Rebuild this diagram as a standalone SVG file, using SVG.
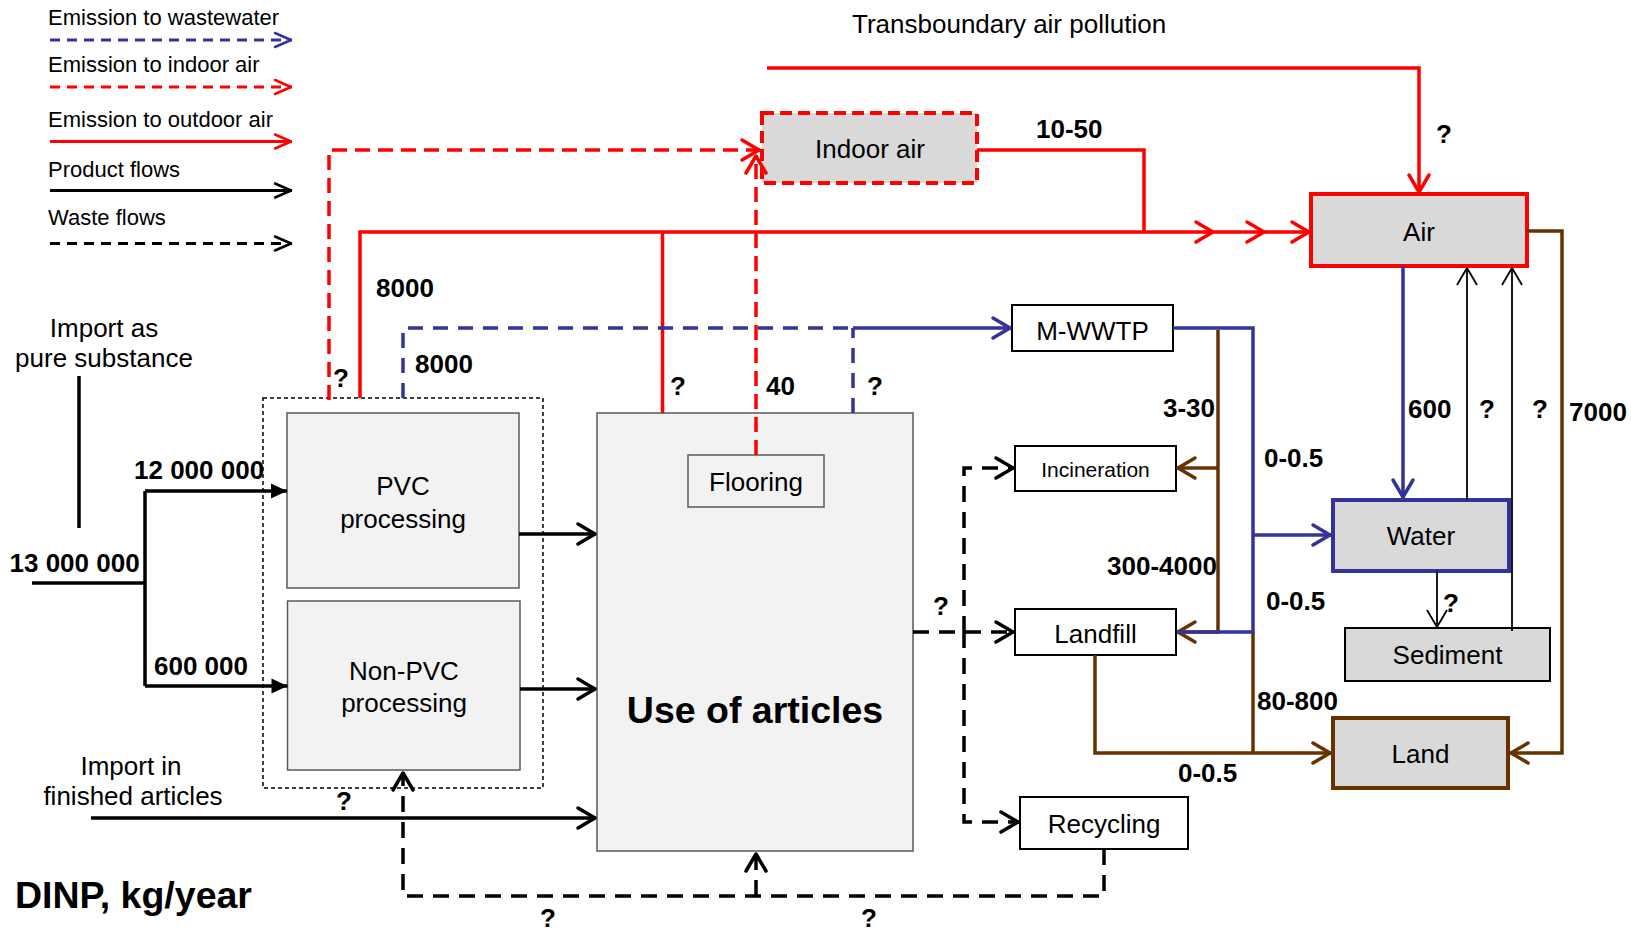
<svg xmlns="http://www.w3.org/2000/svg" width="1631" height="934" viewBox="0 0 1631 934">
<style>
  text { font-family: "Liberation Sans", Arial, sans-serif; fill: #000; }
  .lbl { font-size: 26px; }
  .small { font-size: 21px; }
  .num { font-size: 26px; font-weight: bold; }
  .leg { font-size: 22px; }
  .title { font-size: 37.5px; font-weight: bold; }
  .mid { text-anchor: middle; }
  .proc { fill: #f2f2f2; stroke: #595959; stroke-width: 1.5; }
  .plain { fill: #ffffff; stroke: #000; stroke-width: 2; }
  .env { fill: #d9d9d9; stroke-width: 4; }
  .ln { fill: none; stroke-width: 3.5; }
  .lg { fill: none; stroke-width: 3; }
  .red { stroke: #ff0000; }
  .blue { stroke: #333399; }
  .brown { stroke: #663300; }
  .blk { stroke: #000000; }
  .thin { fill: none; stroke: #000000; stroke-width: 1.8; }
  .dr { stroke-dasharray: 15 8; }
  .db { stroke-dasharray: 15 10; }
  .dk { stroke-dasharray: 16 10; }
  .dl { stroke-dasharray: 10 7; }
</style>
<defs>
  <marker id="ah-red" markerUnits="userSpaceOnUse" orient="auto" overflow="visible" markerWidth="1" markerHeight="1">
    <path d="M-18,-10 L-1,0 L-18,10" fill="none" stroke="#ff0000" stroke-width="3.5" stroke-linejoin="round" stroke-linecap="round"/>
  </marker>
  <marker id="ah-blue" markerUnits="userSpaceOnUse" orient="auto" overflow="visible" markerWidth="1" markerHeight="1">
    <path d="M-18,-10 L-1,0 L-18,10" fill="none" stroke="#333399" stroke-width="3.5" stroke-linejoin="round" stroke-linecap="round"/>
  </marker>
  <marker id="ah-brown" markerUnits="userSpaceOnUse" orient="auto" overflow="visible" markerWidth="1" markerHeight="1">
    <path d="M-18,-10 L-1,0 L-18,10" fill="none" stroke="#663300" stroke-width="3.5" stroke-linejoin="round" stroke-linecap="round"/>
  </marker>
  <marker id="ah-black" markerUnits="userSpaceOnUse" orient="auto" overflow="visible" markerWidth="1" markerHeight="1">
    <path d="M-18,-10 L-1,0 L-18,10" fill="none" stroke="#000000" stroke-width="3.5" stroke-linejoin="round" stroke-linecap="round"/>
  </marker>
  <marker id="ah-thin" markerUnits="userSpaceOnUse" orient="auto" overflow="visible" markerWidth="1" markerHeight="1">
    <path d="M-17,-10 L0,0 L-17,10" fill="none" stroke="#000000" stroke-width="1.8" stroke-linejoin="round"/>
  </marker>
  <marker id="tri-black" markerUnits="userSpaceOnUse" orient="auto" overflow="visible" markerWidth="1" markerHeight="1">
    <path d="M-16,-7.5 L0,0 L-16,7.5 Z" fill="#000000"/>
  </marker>
  <marker id="lg-blue" markerUnits="userSpaceOnUse" orient="auto" overflow="visible" markerWidth="1" markerHeight="1">
    <path d="M-17,-7 L-1,0 L-17,7" fill="none" stroke="#333399" stroke-width="2.5" stroke-linejoin="round" stroke-linecap="round"/>
  </marker>
  <marker id="lg-red" markerUnits="userSpaceOnUse" orient="auto" overflow="visible" markerWidth="1" markerHeight="1">
    <path d="M-17,-7 L-1,0 L-17,7" fill="none" stroke="#ff0000" stroke-width="2.5" stroke-linejoin="round" stroke-linecap="round"/>
  </marker>
  <marker id="lg-black" markerUnits="userSpaceOnUse" orient="auto" overflow="visible" markerWidth="1" markerHeight="1">
    <path d="M-17,-7 L-1,0 L-17,7" fill="none" stroke="#000000" stroke-width="2.5" stroke-linejoin="round" stroke-linecap="round"/>
  </marker>
</defs>

<rect x="0" y="0" width="1631" height="934" fill="#ffffff"/>

<!-- Legend -->
<g id="legend">
  <text class="leg" x="48" y="25">Emission to wastewater</text>
  <path class="lg blue dl" d="M50,40 H292" marker-end="url(#lg-blue)"/>
  <text class="leg" x="48" y="72">Emission to indoor air</text>
  <path class="lg red dl" d="M50,87 H292" marker-end="url(#lg-red)"/>
  <text class="leg" x="48" y="127">Emission to outdoor air</text>
  <path class="lg red" d="M50,141.5 H292" marker-end="url(#lg-red)"/>
  <text class="leg" x="48" y="177">Product flows</text>
  <path class="lg blk" d="M50,190.5 H292" marker-end="url(#lg-black)"/>
  <text class="leg" x="48" y="225">Waste flows</text>
  <path class="lg blk dl" d="M50,243.5 H292" marker-end="url(#lg-black)"/>
</g>

<text class="lbl" x="852" y="33">Transboundary air pollution</text>
<text class="title" x="15" y="908">DINP, kg/year</text>

<!-- Source texts -->
<g id="import-pure">
  <text class="lbl mid" x="104" y="337">Import as</text>
  <text class="lbl mid" x="104" y="367">pure substance</text>
</g>
<g id="import-articles">
  <text class="lbl mid" x="131" y="775">Import in</text>
  <text class="lbl mid" x="133" y="805">finished articles</text>
</g>

<!-- Process nodes -->
<g id="node-processing">
  <rect x="263" y="398" width="280" height="390" fill="none" stroke="#000" stroke-width="1.5" stroke-dasharray="4 3"/>
</g>
<g id="node-pvc">
  <rect class="proc" x="287" y="413" width="232" height="175"/>
  <text class="lbl mid" x="403" y="495">PVC</text>
  <text class="lbl mid" x="403" y="528">processing</text>
</g>
<g id="node-nonpvc">
  <rect class="proc" x="287.5" y="601" width="232.5" height="169"/>
  <text class="lbl mid" x="404" y="680">Non-PVC</text>
  <text class="lbl mid" x="404" y="712">processing</text>
</g>
<g id="node-use">
  <rect class="proc" x="597" y="413" width="316" height="438"/>
  <text class="title mid" x="755" y="723">Use of articles</text>
</g>
<g id="node-flooring">
  <rect class="proc" x="688" y="455" width="136" height="52"/>
  <text class="lbl mid" x="756" y="491">Flooring</text>
</g>
<g id="node-indoor-air">
  <rect x="762" y="113" width="215" height="70" fill="#d9d9d9" stroke="#ff0000" stroke-width="4" stroke-dasharray="12 6"/>
  <text class="lbl mid" x="870" y="158">Indoor air</text>
</g>
<g id="node-air">
  <rect class="env red" x="1311" y="194" width="216" height="72"/>
  <text class="lbl mid" x="1419" y="241">Air</text>
</g>
<g id="node-mwwtp">
  <rect class="plain" x="1012" y="305" width="161" height="46"/>
  <text class="lbl mid" x="1092.5" y="340">M-WWTP</text>
</g>
<g id="node-incineration">
  <rect class="plain" x="1015" y="446" width="161" height="45"/>
  <text class="small mid" x="1095.5" y="477">Incineration</text>
</g>
<g id="node-landfill">
  <rect class="plain" x="1015" y="609" width="161" height="46"/>
  <text class="lbl mid" x="1095.5" y="643">Landfill</text>
</g>
<g id="node-recycling">
  <rect class="plain" x="1020" y="797" width="168" height="52"/>
  <text class="lbl mid" x="1104" y="833">Recycling</text>
</g>
<g id="node-water">
  <rect class="env blue" x="1333" y="500" width="176" height="71"/>
  <text class="lbl mid" x="1421" y="545">Water</text>
</g>
<g id="node-sediment">
  <rect x="1345" y="628" width="205" height="53" fill="#d9d9d9" stroke="#000" stroke-width="2"/>
  <text class="lbl mid" x="1447.5" y="664">Sediment</text>
</g>
<g id="node-land">
  <rect class="env brown" x="1333" y="718" width="175" height="70"/>
  <text class="lbl mid" x="1420.5" y="763">Land</text>
</g>

<!-- Flows -->
<g id="connectors">
  <!-- outdoor air emissions -->
  <path class="ln red" d="M767,68 H1419 V193" marker-end="url(#ah-red)"/>
  <path class="ln red" d="M360,398 V232 H1144"/>
  <path class="ln red" d="M662.5,413 V232"/>
  <path class="ln red" d="M977,150 H1144 V232"/>
  <path class="ln red" d="M1144,232 H1214" marker-end="url(#ah-red)"/>
  <path class="ln red" d="M1214,232 H1265" marker-end="url(#ah-red)"/>
  <path class="ln red" d="M1265,232 H1310" marker-end="url(#ah-red)"/>
  <!-- indoor air emissions -->
  <path class="ln red dr" d="M329,400 V150 H760" marker-end="url(#ah-red)"/>
  <path class="ln red dr" d="M756,455 V155" marker-end="url(#ah-red)"/>
  <!-- wastewater -->
  <path class="ln blue db" d="M403,398 V328 H853"/>
  <path class="ln blue db" d="M853,413 V328"/>
  <path class="ln blue" d="M853,328 H1011" marker-end="url(#ah-blue)"/>
  <!-- sludge and residues (brown) -->
  <path class="ln brown" d="M1218,330 V632 H1177" marker-end="url(#ah-brown)"/>
  <path class="ln brown" d="M1218,468 H1177" marker-end="url(#ah-brown)"/>
  <path class="ln brown" d="M1253,632 V753"/>
  <path class="ln brown" d="M1095,655 V753 H1331" marker-end="url(#ah-brown)"/>
  <path class="ln brown" d="M1527,231 H1562 V753 H1510" marker-end="url(#ah-brown)"/>
  <!-- treated effluent -->
  <path class="ln blue" d="M1173,328 H1253 V632 H1177"/>
  <path class="ln blue" d="M1253,535 H1331" marker-end="url(#ah-blue)"/>
  <path class="ln blue" d="M1403,266 V498" marker-end="url(#ah-blue)"/>
  <!-- exchanges between compartments -->
  <path class="thin" d="M1437,571 V627" marker-end="url(#ah-thin)"/>
  <path class="thin" d="M1467,500 V268" marker-end="url(#ah-thin)"/>
  <path class="thin" d="M1512,631 V268" marker-end="url(#ah-thin)"/>
  <!-- product flows -->
  <path class="ln blk" d="M79,376 V528"/>
  <path class="ln blk" d="M32,583 H145"/>
  <path class="ln blk" d="M145,491 V686"/>
  <path class="ln blk" d="M145,491 H287" marker-end="url(#tri-black)"/>
  <path class="ln blk" d="M145,686 H287.5" marker-end="url(#tri-black)"/>
  <path class="ln blk" d="M519,534 H596" marker-end="url(#ah-black)"/>
  <path class="ln blk" d="M520,689 H596" marker-end="url(#ah-black)"/>
  <path class="ln blk" d="M91,818 H596" marker-end="url(#ah-black)"/>
  <!-- waste flows -->
  <path class="ln blk dk" d="M913,632 H1014" marker-end="url(#ah-black)"/>
  <path class="ln blk dk" d="M964,632 V468 H1014" marker-end="url(#ah-black)"/>
  <path class="ln blk dk" d="M964,632 V822 H1019" marker-end="url(#ah-black)"/>
  <path class="ln blk dk" d="M1104,849 V896 H403 V772" marker-end="url(#ah-black)"/>
  <path class="ln blk dk" d="M756,896 V853" marker-end="url(#ah-black)"/>
</g>

<!-- Flow quantities -->
<g id="flow-labels">
  <text class="num" x="376" y="297">8000</text>
  <text class="num" x="415" y="373">8000</text>
  <text class="num" x="333" y="387">?</text>
  <text class="num" x="670" y="395">?</text>
  <text class="num" x="766" y="395">40</text>
  <text class="num" x="867" y="395">?</text>
  <text class="num" x="1036" y="138">10-50</text>
  <text class="num" x="1436" y="143">?</text>
  <text class="num" x="1163" y="417">3-30</text>
  <text class="num" x="1264" y="467">0-0.5</text>
  <text class="num" x="1107" y="575">300-4000</text>
  <text class="num" x="1266" y="610">0-0.5</text>
  <text class="num" x="1408" y="418">600</text>
  <text class="num" x="1479" y="418">?</text>
  <text class="num" x="1532" y="418">?</text>
  <text class="num" x="1569" y="421">7000</text>
  <text class="num" x="1443" y="612">?</text>
  <text class="num" x="1257" y="710">80-800</text>
  <text class="num" x="1178" y="782">0-0.5</text>
  <text class="num" x="134" y="479">12 000 000</text>
  <text class="num" x="9.5" y="572">13 000 000</text>
  <text class="num" x="154" y="675">600 000</text>
  <text class="num" x="336" y="810">?</text>
  <text class="num" x="933" y="615">?</text>
  <text class="num" x="540" y="927">?</text>
  <text class="num" x="861" y="927">?</text>
</g>
</svg>
